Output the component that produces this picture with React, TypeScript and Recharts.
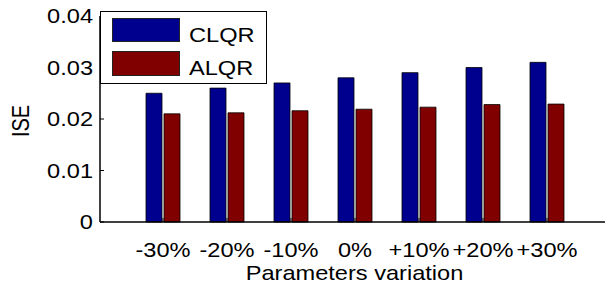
import { BarChart, Bar, XAxis, YAxis, Legend } from 'recharts'

// ISE for each parameter variation, two controllers side by side.
const categories = ['-30%', '-20%', '-10%', '0%', '+10%', '+20%', '+30%']
const clqr = [0.025, 0.026, 0.027, 0.028, 0.029, 0.030, 0.031]
const alqr = [0.021, 0.0212, 0.0216, 0.0219, 0.0223, 0.0228, 0.0229]
const yTicks = [0, 0.01, 0.02, 0.03, 0.04]

const data = categories.map((c, i) => ({ name: c, CLQR: clqr[i], ALQR: alqr[i] }))

const FONT = 'Liberation Sans, Arial, sans-serif'
const BLUE = '#00008f'
const RED = '#800000'
const X_MARGIN = 17
const Y_MARGIN = 8
// the reference figure is stretched sideways a bit
const SX = 1.18

const Txt = ({ x, y, anchor, rotate, children }: any) => (
  <text
    transform={`translate(${x},${y}) scale(${SX},1)${rotate ? ` rotate(${rotate})` : ''}`}
    textAnchor={anchor}
    fontSize={20}
    fontFamily={FONT}
    fill="#000"
  >
    {children}
  </text>
)

// matlab style: ticks point into the plot
const BottomTick = (p: any) => (
  <g>
    <line x1={p.x} x2={p.x} y1={p.y - X_MARGIN} y2={p.y - X_MARGIN - 4} stroke="#000" />
    <Txt x={p.x} y={p.y + 18} anchor="middle">{p.payload.value}</Txt>
  </g>
)

const TopTick = (p: any) => (
  <line x1={p.x} x2={p.x} y1={p.y} y2={p.y + 4} stroke="#000" />
)

const LeftTick = (p: any) => (
  <g>
    <line x1={p.x + Y_MARGIN} x2={p.x + Y_MARGIN + 4} y1={p.y} y2={p.y} stroke="#000" />
    <Txt x={p.x + 1} y={p.y + 7} anchor="end">{p.payload.value}</Txt>
  </g>
)

const YLabel = ({ viewBox }: any) => (
  <Txt x={21} y={viewBox.y + viewBox.height / 2 + 2} anchor="middle" rotate={-90}>
    <tspan dy="0.355em">ISE</tspan>
  </Txt>
)

const XLabel = ({ viewBox }: any) => (
  <Txt x={viewBox.x + viewBox.width / 2 - 1} y={280} anchor="middle">
    Parameters variation
  </Txt>
)

const legendItems = [
  { label: 'CLQR', color: BLUE, top: 7, h: 24 },
  { label: 'ALQR', color: RED, top: 40, h: 25 },
]

const LegendBox = () => (
  <div style={{ fontFamily: FONT, fontSize: 20, color: '#000' }}>
    <div
      style={{
        position: 'absolute',
        left: 0,
        top: 0,
        width: 165,
        height: 71,
        border: '1px solid #000',
        background: '#fff',
      }}
    />
    {legendItems.map((it) => (
      <div key={it.label}>
        <span
          style={{
            position: 'absolute',
            left: 12,
            top: it.top,
            width: 66,
            height: it.h - 2,
            background: it.color,
            border: '1px solid #222',
          }}
        />
        <span
          style={{
            position: 'absolute',
            left: 89,
            top: it.top + 7,
            lineHeight: '20px',
            whiteSpace: 'nowrap',
            transform: `scaleX(${SX})`,
            transformOrigin: 'left center',
          }}
        >
          {it.label}
        </span>
      </div>
    ))}
  </div>
)

export default function App() {
  return (
    <div style={{ position: 'absolute', left: 0, top: 0, width: 605, height: 289, overflow: 'hidden', background: '#fff' }}>
      <BarChart
        width={612}
        height={289}
        data={data}
        margin={{ top: 16, right: 1, left: 0, bottom: 0 }}
        barSize={16}
        barGap={2}
      >
        <XAxis
          dataKey="name"
          height={67}
          interval={0}
          padding={{ left: 31, right: 32 }}
          tickSize={0}
          tickMargin={X_MARGIN}
          tick={<BottomTick />}
          axisLine={{ stroke: '#000', strokeWidth: 1.5 }}
          label={<XLabel />}
        />
        <XAxis
          xAxisId="top"
          dataKey="name"
          orientation="top"
          height={0}
          interval={0}
          padding={{ left: 31, right: 32 }}
          tickSize={0}
          tickMargin={0}
          tick={<TopTick />}
          axisLine={{ stroke: '#000', strokeWidth: 1.5 }}
        />
        <YAxis
          width={100}
          domain={[0, 0.04]}
          ticks={yTicks}
          interval={0}
          tickSize={0}
          tickMargin={Y_MARGIN}
          tick={<LeftTick />}
          axisLine={{ stroke: '#000', strokeWidth: 1.5 }}
          label={<YLabel />}
        />
        <Legend
          layout="horizontal"
          verticalAlign="middle"
          align="center"
          content={<LegendBox />}
          wrapperStyle={{ left: 100, top: 11, width: 167, height: 73 }}
        />
        <Bar dataKey="CLQR" fill={BLUE} stroke="#000" strokeWidth={0.8} isAnimationActive={false} />
        <Bar dataKey="ALQR" fill={RED} stroke="#000" strokeWidth={0.8} isAnimationActive={false} />
      </BarChart>
    </div>
  )
}
